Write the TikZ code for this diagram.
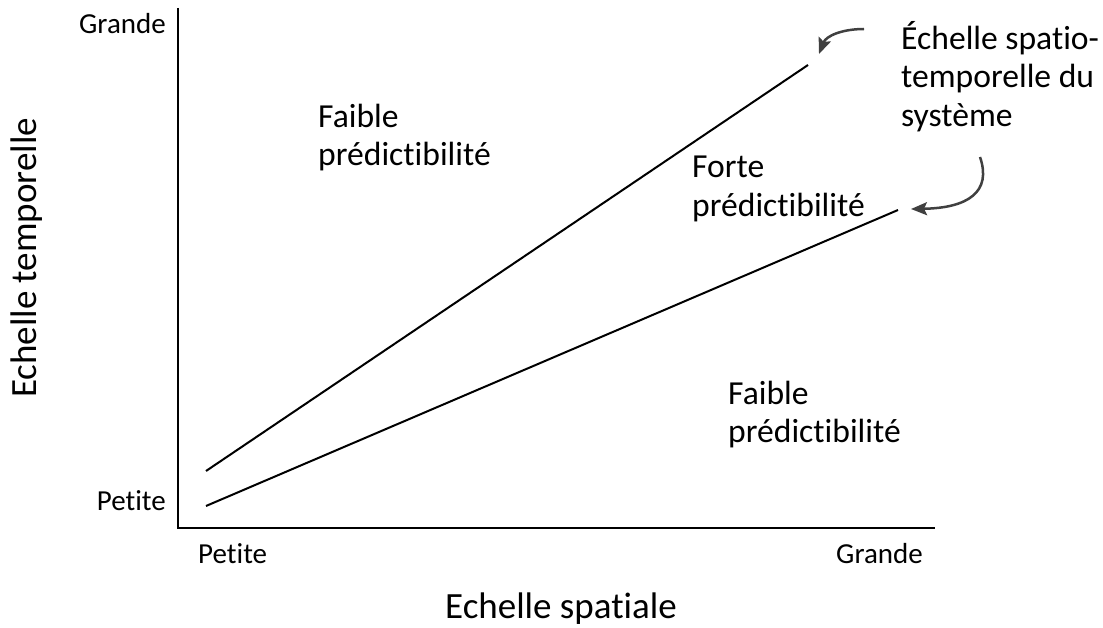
\documentclass[tikz,border=0pt]{standalone}
\usepackage{fontspec}
\setmainfont{Carlito}[Ligatures={NoCommon,NoRare,NoContextual}]
\usetikzlibrary{arrows.meta}
\definecolor{arrowgray}{RGB}{64,64,64}
\begin{document}
\begin{tikzpicture}[x=1pt,y=-1pt,
  lbl/.style={inner sep=0pt, anchor=base west, font=\fontsize{33.6}{38}\selectfont},
  ticklbl/.style={inner sep=0pt, font=\fontsize{29}{34}\selectfont},
  axlbl/.style={inner sep=0pt, font=\fontsize{37}{44}\selectfont},
  axisline/.style={line width=2pt, black},
  scaleline/.style={line width=2pt, black},
  callout/.style={line width=2.5pt, draw=arrowgray, -{Stealth[length=16pt,width=13pt,inset=3pt]}}]
\useasboundingbox (0,0) rectangle (1103,628);
% axes
\coordinate (O) at (178,528);
\coordinate (Ytop) at (178,8);
\coordinate (Xend) at (935,528);
\draw[axisline] (Ytop) -- (O) -- (Xend);
% scale lines
\coordinate (A1) at (206,471);
\coordinate (A2) at (808,65);
\coordinate (B1) at (206,506);
\coordinate (B2) at (898,210);
\draw[scaleline] (A1) -- (A2);
\draw[scaleline] (B1) -- (B2);
% tick labels
\node[ticklbl, anchor=base east] (ygrande) at (166,34) {Grande};
\node[ticklbl, anchor=base east] (ypetite) at (166,510) {Petite};
\node[ticklbl, anchor=base west] (xpetite) at (198,563) {Petite};
\node[ticklbl, anchor=base east] (xgrande) at (923,563) {Grande};
% axis labels
\node[axlbl, anchor=base] (xlab) at (561,618) {Echelle spatiale};
\node[axlbl, anchor=base, rotate=90] (ylab) at (36,258) {Echelle temporelle};
% region labels
\node[lbl] (f1a) at (318,128) {Faible};
\node[lbl] (f1b) at (318,166) {prédictibilité};
\node[lbl] (fa) at (692,178) {Forte};
\node[lbl] (fb) at (692,217) {prédictibilité};
\node[lbl] (f2a) at (728,404) {Faible};
\node[lbl] (f2b) at (728,442) {prédictibilité};
% callout text
\node[lbl] (c1) at (901,50) {Échelle spatio-};
\node[lbl] (c2) at (901,88) {temporelle du};
\node[lbl] (c3) at (901,127) {système};
% callout arrows
\coordinate (s1) at (864,29);
\coordinate (t1) at (819,54);
\coordinate (s2) at (980,157);
\coordinate (t2) at (911,209);
\draw[callout] (s1) .. controls (842,29) and (826,36) .. (t1);
\draw[callout] (s2) .. controls (992,192) and (968,208) .. (t2);
\end{tikzpicture}
\end{document}
